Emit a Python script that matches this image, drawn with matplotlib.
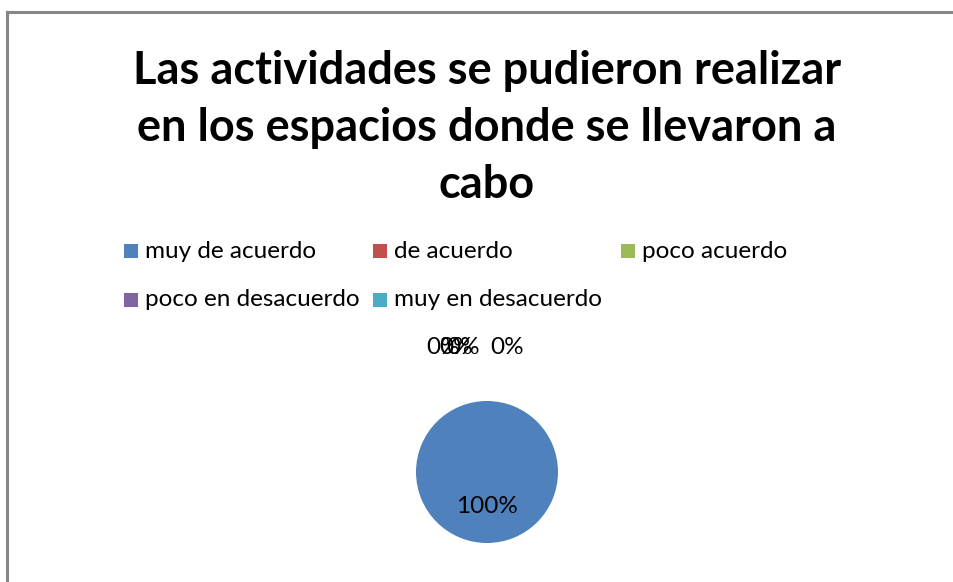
import matplotlib.pyplot as plt
from matplotlib.patches import Rectangle
from matplotlib.lines import Line2D

plt.rcParams['font.family'] = ['Lato', 'DejaVu Sans']

title = "Las actividades se pudieron realizar\nen los espacios donde se llevaron a\ncabo"
categories = ["muy de acuerdo", "de acuerdo", "poco acuerdo",
              "poco en desacuerdo", "muy en desacuerdo"]
values = [100, 0, 0, 0, 0]
colors = ["#4F81BD", "#C0504D", "#9BBB59", "#8064A2", "#4BACC6"]

W, H = 954, 582
fig = plt.figure(figsize=(W / 100, H / 100), dpi=100)

# chart frame (bottom edge is cut off in the original)
fig.add_artist(Line2D([7 / W, 7 / W], [0, 1 - 12 / H], color="#868686", lw=2.2))
fig.add_artist(Line2D([7 / W, 1], [1 - 12 / H, 1 - 12 / H], color="#868686", lw=2.2))

fig.text(487 / W, 1 - 128 / H, title, ha="center", va="center",
         fontsize=32.5, fontweight="bold", linespacing=1.45)

# legend laid out like Excel: 3 columns, 2 rows
col_x = [124, 373, 621]
row_y = [251, 300]
for i, (lab, c) in enumerate(zip(categories, colors)):
    x = col_x[i % 3]
    y = row_y[i // 3]
    fig.add_artist(Rectangle((x / W, (H - y - 7) / H), 14 / W, 14 / H,
                             transform=fig.transFigure, color=c, lw=0))
    fig.text((x + 21) / W, 1 - y / H, lab, ha="left", va="center", fontsize=17.5)

# pie
cx, cy, r = 487, 472, 71
ax = fig.add_axes([(cx - r) / W, (H - cy - r) / H, 2 * r / W, 2 * r / H])
ax.pie(values, colors=colors, startangle=90, counterclock=False, radius=1,
       wedgeprops=dict(linewidth=0))
ax.set_xlim(-1, 1)
ax.set_ylim(-1, 1)
ax.set_aspect("equal")
ax.axis("off")

total = sum(values)
label_pos = [(0.0, -0.48), (-0.62, 1.75), (-0.43, 1.75), (-0.34, 1.75), (0.28, 1.75)]
for v, (lx, ly) in zip(values, label_pos):
    ax.text(lx, ly, f"{v / total * 100:.0f}%", ha="center", va="center",
            fontsize=17.5, clip_on=False)

fig.savefig("out.png", dpi=100)
